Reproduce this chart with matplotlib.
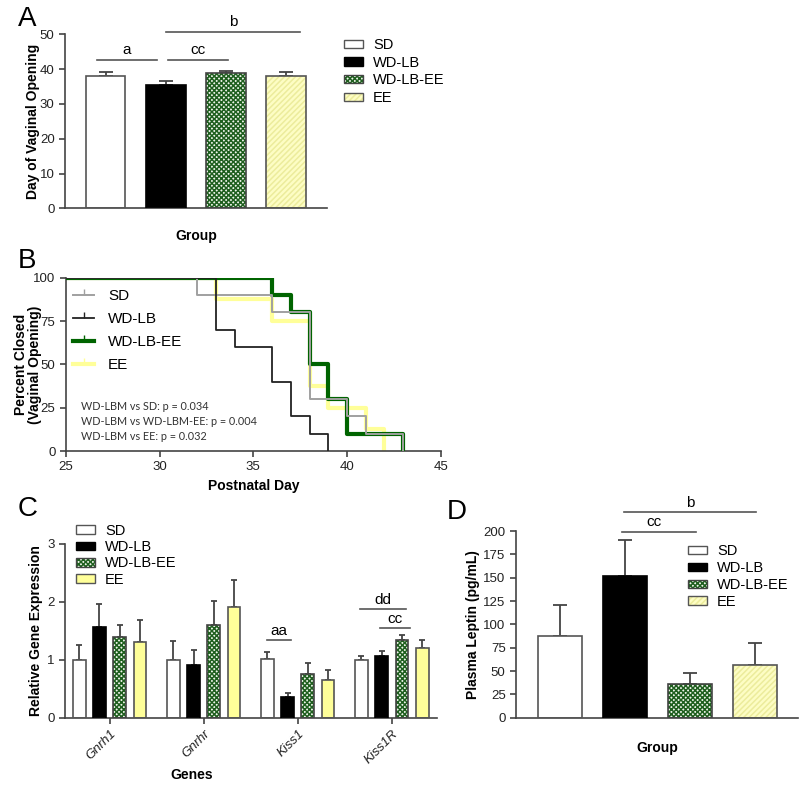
import numpy as np
import matplotlib
matplotlib.use('Agg')
import matplotlib.pyplot as plt
from matplotlib.patches import Patch
from matplotlib.lines import Line2D

plt.rcParams['font.family'] = ['Liberation Sans', 'DejaVu Sans']
plt.rcParams['hatch.linewidth'] = 1.1

# ---- data ----
groups = ['SD', 'WD-LB', 'WD-LB-EE', 'EE']

# A: day of vaginal opening
vo_mean = [38.0, 35.5, 38.9, 38.0]
vo_sem = [1.3, 1.0, 0.6, 1.3]

# B: percent closed (Kaplan-Meier steps)
km_sd_day = [25, 32, 36, 38, 40, 41, 43]
km_sd_pct = [100, 90, 80, 30, 20, 10, 0]
km_wdlb_day = [25, 33, 34, 36, 37, 38, 39]
km_wdlb_pct = [100, 70, 60, 40, 20, 10, 0]
km_wdlbee_day = [25, 36, 37, 38, 39, 40, 43]
km_wdlbee_pct = [100, 90, 80, 50, 30, 10, 0]
km_ee_day = [25, 33, 36, 38, 39, 41, 42]
km_ee_pct = [100, 87.5, 75, 37.5, 25, 12.5, 0]
km_stats = ['WD-LBM vs SD: p = 0.034',
            'WD-LBM vs WD-LBM-EE: p = 0.004',
            'WD-LBM vs EE: p = 0.032']

# C: relative gene expression
genes = ['Gnrh1', 'Gnrhr', 'Kiss1', 'Kiss1R']
expr_mean = {
    'SD':       [1.00, 1.00, 1.01, 1.00],
    'WD-LB':    [1.57, 0.91, 0.36, 1.06],
    'WD-LB-EE': [1.39, 1.60, 0.76, 1.35],
    'EE':       [1.31, 1.91, 0.65, 1.21],
}
expr_sem = {
    'SD':       [0.25, 0.32, 0.13, 0.07],
    'WD-LB':    [0.40, 0.26, 0.07, 0.10],
    'WD-LB-EE': [0.21, 0.41, 0.18, 0.07],
    'EE':       [0.37, 0.47, 0.18, 0.13],
}

# D: plasma leptin
lep_mean = [88, 152, 36, 56]
lep_sem = [33, 38, 12, 24]

# ---- styles ----
styles = {
    'SD':       dict(fc='white', hc='white', hatch=None, ec='#555555'),
    'WD-LB':    dict(fc='black', hc='black', hatch=None, ec='black'),
    'WD-LB-EE': dict(fc='#eef4ea', hc='#1f5f1f', hatch='xxxxxxx', ec='#444444'),
    'EE':       dict(fc='#fdfdc4', hc='#ecec9c', hatch='//////', ec='#555555'),
}
styles_c = dict(styles)
styles_c['EE'] = dict(fc='#ffff99', hc='#ffff99', hatch=None, ec='#555555')

W, H = 800, 785
fig = plt.figure(figsize=(W / 100, H / 100), dpi=100)


def rect(l, r, t, b):
    return [l / W, 1 - b / H, (r - l) / W, (b - t) / H]


def style_axes(ax):
    for s in ['top', 'right']:
        ax.spines[s].set_visible(False)
    for s in ['left', 'bottom']:
        ax.spines[s].set_color('#444444')
        ax.spines[s].set_linewidth(1.2)
    ax.tick_params(colors='#444444', labelcolor='#222222', labelsize=9.5,
                   length=4, width=1.2)


def draw_bars(ax, x, vals, errs, width, st_map, capsize):
    for xi, v, g in zip(x, vals, groups):
        st = st_map[g]
        ax.bar(xi, v, width, color=st['fc'], edgecolor=st['hc'], hatch=st['hatch'],
               linewidth=0, zorder=2)
        ax.bar(xi, v, width, fill=False, edgecolor=st['ec'], linewidth=1.2, zorder=3)
    ax.errorbar(x, vals, yerr=[np.zeros(len(vals)), errs], fmt='none', ecolor='#444444',
                elinewidth=1.3, capsize=capsize, capthick=1.3, zorder=1)


def bar_handles(st_map):
    hs = []
    for g in groups:
        st = st_map[g]
        hs.append((Patch(facecolor=st['fc'], edgecolor=st['hc'], hatch=st['hatch'], linewidth=0),
                   Patch(fill=False, edgecolor=st['ec'], linewidth=1.0)))
    return hs


def sig(ax, x0, x1, y, label, dy, tx=None):
    ax.plot([x0, x1], [y, y], color='#555555', lw=1.2, clip_on=False)
    ax.text((x0 + x1) / 2 if tx is None else tx, y + dy, label, ha='center', va='bottom',
            fontsize=11, clip_on=False)


def legend_at(ax, handles, px, py, fs, hl, hh, ls):
    ax.legend(handles, groups, loc='upper left', bbox_to_anchor=(px / W, 1 - py / H),
              bbox_transform=fig.transFigure, frameon=False, fontsize=fs,
              handlelength=hl, handleheight=hh, labelspacing=ls, borderpad=0,
              borderaxespad=0, handletextpad=0.7)


# ---- Panel A ----
axA = fig.add_axes(rect(65, 326.7, 34.3, 208.3))
xa = np.arange(4)
draw_bars(axA, xa, vo_mean, vo_sem, 0.657, styles, 5)
axA.set_xlim(-0.677, 3.677)
axA.set_ylim(0, 50)
axA.set_yticks([0, 10, 20, 30, 40, 50])
axA.set_xticks([])
style_axes(axA)
axA.set_ylabel('Day of Vaginal Opening', fontsize=10, fontweight='bold')
axA.yaxis.set_label_coords(-0.096, 0.5)
axA.set_xlabel('Group', fontsize=10, fontweight='bold')
axA.xaxis.set_label_coords(0.5, -0.12)
sig(axA, -0.14, 0.85, 42.6, 'a', 0.8)
sig(axA, 1.04, 2.03, 42.6, 'cc', 0.8)
sig(axA, 1.0, 3.24, 50.8, 'b', 0.8)
legend_at(axA, bar_handles(styles), 344, 38, 10.5, 1.28, 0.5, 0.25)
fig.text(18 / W, 1 - 26 / H, 'A', fontsize=20)

# ---- Panel B ----
axB = fig.add_axes(rect(65.9, 440.7, 277.7, 451))
axB.step(km_ee_day, km_ee_pct, where='post', color='#ffff99', lw=3, zorder=2)
axB.step(km_wdlbee_day, km_wdlbee_pct, where='post', color='#006400', lw=3, zorder=3)
axB.step(km_sd_day, km_sd_pct, where='post', color='#a0a0a0', lw=1.4, zorder=4)
axB.step(km_wdlb_day, km_wdlb_pct, where='post', color='#222222', lw=1.3, zorder=5)
axB.set_xlim(25, 45)
axB.set_ylim(0, 100)
axB.set_xticks([25, 30, 35, 40, 45])
axB.set_yticks([0, 25, 50, 75, 100])
style_axes(axB)
axB.set_ylabel('Percent Closed\n(Vaginal Opening)', fontsize=10, fontweight='bold',
               linespacing=1.0)
axB.yaxis.set_label_coords(-0.064, 0.5)
axB.set_xlabel('Postnatal Day', fontsize=10, fontweight='bold')
axB.xaxis.set_label_coords(0.5, -0.16)
km_handles = [Line2D([], [], color='#a0a0a0', lw=1.4, marker=2, markersize=4),
              Line2D([], [], color='#222222', lw=1.3, marker=2, markersize=4),
              Line2D([], [], color='#006400', lw=3, marker=2, markersize=4),
              Line2D([], [], color='#ffff99', lw=3, marker=2, markersize=4)]
axB.legend(km_handles, groups, loc='upper left', bbox_to_anchor=(73 / W, 1 - 289 / H),
           bbox_transform=fig.transFigure, frameon=False, fontsize=11,
           handlelength=1.4, labelspacing=0.6, borderpad=0, borderaxespad=0,
           handletextpad=0.9)
for i, s in enumerate(km_stats):
    fig.text(81 / W, 1 - (407 + i * 14.5) / H, s, fontsize=7.8, family='Lato',
             color='#333333', va='center')
fig.text(18 / W, 1 - 268 / H, 'B', fontsize=20)

# ---- Panel C ----
axC = fig.add_axes(rect(65, 437, 544, 717.7))
xc = np.arange(len(genes))
for k, g in enumerate(groups):
    pos = xc + (k - 1.5) * 0.215
    for xi, v in zip(pos, expr_mean[g]):
        st = styles_c[g]
        axC.bar(xi, v, 0.135, color=st['fc'], edgecolor=st['hc'], hatch=st['hatch'],
                linewidth=0, zorder=2)
        axC.bar(xi, v, 0.135, fill=False, edgecolor=st['ec'], linewidth=1.2, zorder=3)
    axC.errorbar(pos, expr_mean[g], yerr=[np.zeros(len(genes)), expr_sem[g]], fmt='none',
                 ecolor='#444444', elinewidth=1.3, capsize=2.5, capthick=1.3, zorder=1)
axC.set_xlim(-0.473, 3.48)
axC.set_ylim(0, 3)
axC.set_yticks([0, 1, 2, 3])
axC.set_xticks(xc)
axC.set_xticklabels(genes, rotation=45, ha='right', rotation_mode='anchor',
                    fontstyle='italic')
style_axes(axC)
axC.set_ylabel('Relative Gene Expression', fontsize=10, fontweight='bold')
axC.yaxis.set_label_coords(-0.059, 0.5)
axC.set_xlabel('Genes', fontsize=10, fontweight='bold')
axC.xaxis.set_label_coords(0.34, -0.29)
sig(axC, 1.67, 1.93, 1.35, 'aa', 0.03)
sig(axC, 2.66, 3.15, 1.88, 'dd', 0.03)
sig(axC, 2.875, 3.19, 1.55, 'cc', 0.03)
legend_at(axC, bar_handles(styles_c), 76, 524, 10.5, 1.28, 0.55, 0.15)
fig.text(18 / W, 1 - 516 / H, 'C', fontsize=20)

# ---- Panel D ----
axD = fig.add_axes(rect(516, 798, 531, 717.7))
draw_bars(axD, xa, lep_mean, lep_sem, 0.67, styles, 5)
axD.set_xlim(-0.677, 3.66)
axD.set_ylim(0, 200)
axD.set_yticks(np.arange(0, 201, 25))
axD.set_xticks([])
style_axes(axD)
axD.set_ylabel('Plasma Leptin (pg/mL)', fontsize=10, fontweight='bold')
axD.yaxis.set_label_coords(-0.128, 0.5)
axD.set_xlabel('Group', fontsize=10, fontweight='bold')
axD.xaxis.set_label_coords(0.5, -0.125)
sig(axD, 0.985, 3.015, 220, 'b', 3)
sig(axD, 0.954, 2.09, 199, 'cc', 3, tx=1.45)
legend_at(axD, bar_handles(styles), 688, 544, 10.5, 1.28, 0.5, 0.2)
fig.text(447 / W, 1 - 519 / H, 'D', fontsize=20)

fig.savefig('out.png', dpi=100)
